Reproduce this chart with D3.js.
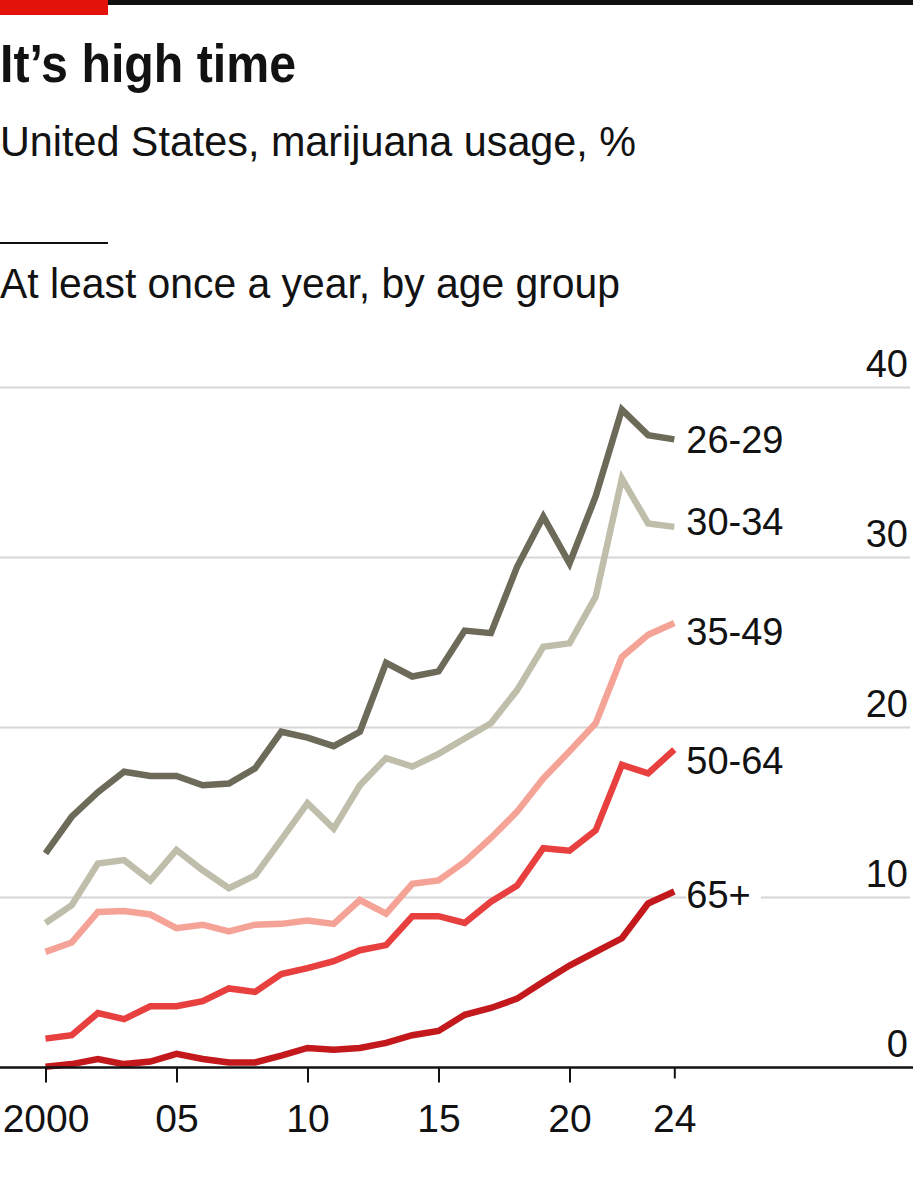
<!DOCTYPE html>
<html>
<head>
<meta charset="utf-8">
<script src="https://cdn.jsdelivr.net/npm/d3@7"></script>
<style>
  html, body { margin: 0; padding: 0; background: #fff; }
  svg { display: block; }
  text { font-family: "Liberation Sans", Arial, Helvetica, sans-serif; fill: #121212; }
</style>
</head>
<body>
<svg id="chart" width="913" height="1200"></svg>
<script>
// ---- Data ----
const years = d3.range(2000, 2025);
const s26_29 = [12.6,14.75,16.2,17.4,17.15,17.15,16.6,16.7,17.6,19.75,19.4,18.9,19.75,23.8,23.0,23.3,25.7,25.55,29.45,32.4,29.65,33.6,38.7,37.2,36.95];
const s30_34 = [8.5,9.55,12.0,12.2,11.0,12.8,11.6,10.55,11.3,13.4,15.55,14.05,16.6,18.2,17.7,18.45,19.35,20.25,22.2,24.75,24.95,27.7,34.65,32.0,31.8];
const s35_49 = [6.8,7.35,9.15,9.2,9.0,8.2,8.4,8.0,8.4,8.45,8.65,8.45,9.85,9.05,10.8,11.0,12.1,13.5,15.05,17.0,18.6,20.25,24.15,25.45,26.15];
const s50_64 = [1.7,1.9,3.2,2.85,3.6,3.6,3.9,4.65,4.45,5.5,5.85,6.25,6.9,7.2,8.9,8.9,8.5,9.75,10.7,12.9,12.75,13.95,17.8,17.3,18.7];
const s65 = [0.05,0.2,0.5,0.2,0.35,0.8,0.5,0.3,0.3,0.7,1.15,1.05,1.15,1.45,1.9,2.15,3.1,3.5,4.05,5.05,6.0,6.8,7.6,9.65,10.35];
const seriesNames = ["26-29","30-34","35-49","50-64","65+"];
const seriesColors = ["#6c6a58","#bebeab","#f5a397","#e8403f","#c3191d"];
const xTicks = [2000,2005,2010,2015,2020,2024];
const xTickLabels = ["2000","05","10","15","20","24"];
const yTicks = [0,10,20,30,40];
const titleText = "It\u2019s high time";
const subtitleText = "United States, marijuana usage, %";
const chartLabel = "At least once a year, by age group";

const seriesValues = [s26_29, s30_34, s35_49, s50_64, s65];
const series = seriesNames.map((n, i) => ({
  name: n, color: seriesColors[i],
  points: years.map((y, j) => ({ year: y, value: seriesValues[i][j] }))
}));

// ---- Layout ----
const svg = d3.select("#chart");
const W = 913;

const x = d3.scaleLinear().domain([2000, 2024]).range([45.5, 674.3]);
const y = d3.scaleLinear().domain([0, 40]).range([1067.5, 387.5]);

// Top decoration
svg.append("rect").attr("x", 0).attr("y", 0).attr("width", W).attr("height", 5).attr("fill", "#111");
svg.append("rect").attr("x", 0).attr("y", 0).attr("width", 108).attr("height", 15).attr("fill", "#e3120b");

// Titles
svg.append("text").attr("x", 0).attr("y", 82)
  .attr("font-size", 54).attr("font-weight", "bold")
  .attr("textLength", 296).attr("lengthAdjust", "spacingAndGlyphs")
  .text(titleText);
svg.append("text").attr("x", 0).attr("y", 156)
  .attr("font-size", 43)
  .attr("textLength", 636).attr("lengthAdjust", "spacingAndGlyphs")
  .text(subtitleText);
svg.append("rect").attr("x", 0).attr("y", 242).attr("width", 108).attr("height", 2).attr("fill", "#111");
svg.append("text").attr("x", 0).attr("y", 298)
  .attr("font-size", 43)
  .attr("textLength", 620).attr("lengthAdjust", "spacingAndGlyphs")
  .text(chartLabel);

// Gridlines
const grid = svg.append("g");
grid.selectAll("line").data(yTicks.filter(d => d > 0)).join("line")
  .attr("x1", 0).attr("x2", 910)
  .attr("y1", d => y(d)).attr("y2", d => y(d))
  .attr("stroke", "#d6d6d6").attr("stroke-width", 2);

// Y-axis labels (right side, above gridlines)
const yAxis = d3.axisRight(y).tickValues(yTicks).tickSize(0).tickFormat(d3.format("d"));
const gy = svg.append("g").attr("transform", "translate(908,0)").call(yAxis);
gy.select(".domain").remove();
gy.selectAll("text")
  .attr("font-size", 38).attr("text-anchor", "end").attr("x", 0).attr("dy", -11)
  .style("font-family", "'Liberation Sans', Arial, sans-serif").attr("fill", "#121212");

// Lines
const line = d3.line().x(d => x(d.year)).y(d => y(d.value));
svg.append("g").selectAll("path").data(series).join("path")
  .attr("d", d => line(d.points))
  .attr("fill", "none").attr("stroke", d => d.color)
  .attr("stroke-width", 6.5).attr("stroke-linejoin", "miter").attr("stroke-linecap", "butt");

// Series labels (white knock-out box behind so gridlines break around them)
const labelDy = [0, -6, 8, 11, 3];
const lg = svg.append("g");
const labels = lg.selectAll("g").data(series).join("g")
  .attr("transform", (d, i) => `translate(${x(2024) + 12},${y(d.points[d.points.length - 1].value) + labelDy[i]})`);
labels.append("rect").attr("x", 0).attr("y", -16).attr("height", 32).attr("fill", "#fff");
labels.append("text")
  .attr("dy", "0.36em")
  .attr("font-size", 38)
  .text(d => d.name);
labels.each(function() {
  const g = d3.select(this);
  const w = g.select("text").node().getComputedTextLength();
  g.select("rect").attr("width", w + 10);
});

// X axis
svg.append("line").attr("x1", 0).attr("x2", W).attr("y1", y(0)).attr("y2", y(0))
  .attr("stroke", "#111").attr("stroke-width", 2.5);
const xAxis = d3.axisBottom(x).tickValues(xTicks).tickSize(15).tickPadding(22)
  .tickFormat((d, i) => xTickLabels[i]);
const gx = svg.append("g").attr("transform", `translate(0,${y(0)})`).call(xAxis);
gx.select(".domain").remove();
gx.selectAll(".tick line").attr("stroke", "#111").attr("stroke-width", 2)
  .attr("y2", d => d === 2024 ? 11 : 15);
gx.selectAll("text").attr("font-size", 39)
  .style("font-family", "'Liberation Sans', Arial, sans-serif").attr("fill", "#121212");
</script>
</body>
</html>
